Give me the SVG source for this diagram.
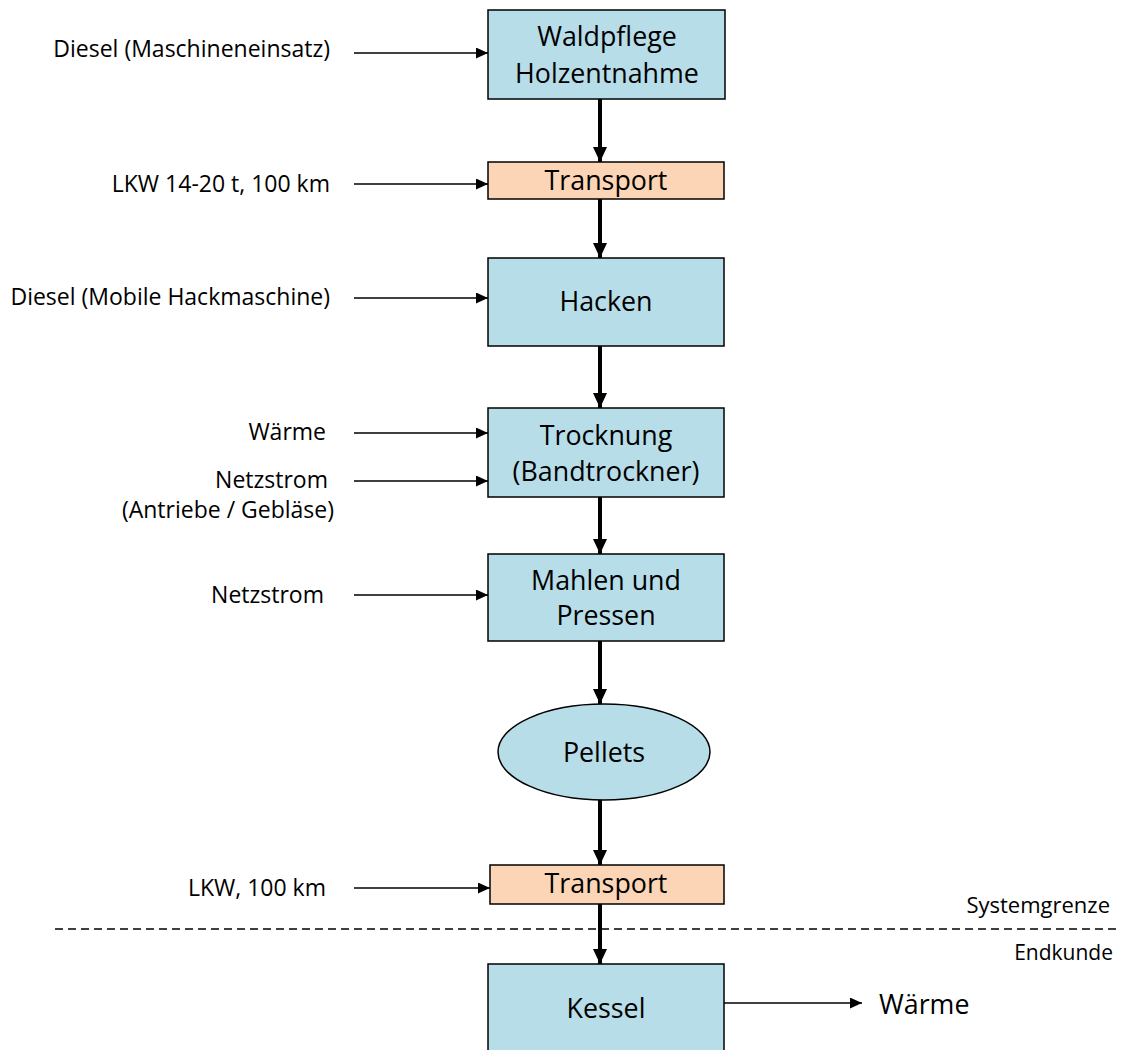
<svg xmlns="http://www.w3.org/2000/svg" width="1121" height="1050" viewBox="0 0 1121 1050">
<style>
.box{fill:#B7DDE8;stroke:#000;stroke-width:1.5}
.tr{fill:#FBD5B5;stroke:#000;stroke-width:1.5}
.bt{font-family:"Open Sans","Liberation Sans",sans-serif;font-size:26.8px;fill:#000;text-anchor:middle}
.lb{font-family:"Open Sans","Liberation Sans",sans-serif;font-size:23px;fill:#000;text-anchor:end}
.thin{stroke:#000;stroke-width:1.5;fill:none;marker-end:url(#ah)}
.thick{stroke:#000;stroke-width:4;fill:none;marker-end:url(#ahb)}
</style>
<defs>
<marker id="ah" markerUnits="userSpaceOnUse" markerWidth="12" markerHeight="11" refX="12" refY="5.5" orient="auto"><path d="M0,0 L12,5.5 L0,11 z" fill="#000"/></marker>
<marker id="ahb" markerUnits="userSpaceOnUse" markerWidth="15" markerHeight="14" refX="15" refY="7" orient="auto"><path d="M0,0 L15,7 L0,14 z" fill="#000"/></marker>
</defs>
<rect width="1121" height="1050" fill="#fff"/>
<g id="connectors">
<line class="thick" x1="600" y1="99" x2="600" y2="162"/>
<line class="thick" x1="600" y1="199" x2="600" y2="258"/>
<line class="thick" x1="600" y1="346" x2="600" y2="408"/>
<line class="thick" x1="600" y1="497" x2="600" y2="554"/>
<line class="thick" x1="600" y1="641" x2="600" y2="704"/>
<line class="thick" x1="600" y1="800" x2="600" y2="865"/>
<line class="thick" x1="600" y1="904" x2="600" y2="964"/>
<line class="thin" x1="354" y1="53" x2="488" y2="53"/>
<line class="thin" x1="354" y1="184" x2="488" y2="184"/>
<line class="thin" x1="354" y1="298" x2="488" y2="298"/>
<line class="thin" x1="354" y1="433" x2="488" y2="433"/>
<line class="thin" x1="354" y1="481" x2="488" y2="481"/>
<line class="thin" x1="354" y1="595" x2="488" y2="595"/>
<line class="thin" x1="354" y1="888" x2="490" y2="888"/>
<line class="thin" x1="724" y1="1003" x2="862" y2="1003"/>
</g>
<g id="systemgrenze">
<line x1="55" y1="929" x2="1121" y2="929" stroke="#000" stroke-width="1.3" stroke-dasharray="8,5"/>
<text class="lb" x="1110" y="913" style="font-size:22px">Systemgrenze</text>
<text class="lb" x="1113" y="960" style="font-size:21px">Endkunde</text>
</g>
<g id="n-waldpflege"><rect class="box" x="488" y="10" width="237" height="89"/><text class="bt" x="607" y="46">Waldpflege</text><text class="bt" x="607" y="83">Holzentnahme</text></g>
<g id="n-transport1"><rect class="tr" x="488" y="162" width="236" height="37"/><text class="bt" x="606" y="190">Transport</text></g>
<g id="n-hacken"><rect class="box" x="488" y="258" width="236" height="88"/><text class="bt" x="606" y="311">Hacken</text></g>
<g id="n-trocknung"><rect class="box" x="488" y="408" width="236" height="89"/><text class="bt" x="606" y="445">Trocknung</text><text class="bt" x="606" y="481">(Bandtrockner)</text></g>
<g id="n-mahlen"><rect class="box" x="488" y="554" width="236" height="87"/><text class="bt" x="606" y="590">Mahlen und</text><text class="bt" x="606" y="625">Pressen</text></g>
<g id="n-pellets"><ellipse class="box" cx="604" cy="752" rx="106" ry="48"/><text class="bt" x="604" y="762">Pellets</text></g>
<g id="n-transport2"><rect class="tr" x="490" y="865" width="234" height="39"/><text class="bt" x="606" y="893">Transport</text></g>
<g id="n-kessel"><rect class="box" x="488" y="964" width="236" height="100"/><text class="bt" x="606" y="1018">Kessel</text></g>
<g id="out-waerme"><text class="bt" x="879" y="1014" style="text-anchor:start">Wärme</text></g>
<g id="inputs">
<text class="lb" x="330" y="57">Diesel (Maschineneinsatz)</text>
<text class="lb" x="330" y="192">LKW 14-20 t, 100 km</text>
<text class="lb" x="330" y="305">Diesel (Mobile Hackmaschine)</text>
<text class="lb" x="326" y="440">Wärme</text>
<text class="lb" x="328" y="488">Netzstrom</text>
<text class="lb" x="334" y="518">(Antriebe / Gebläse)</text>
<text class="lb" x="324" y="603">Netzstrom</text>
<text class="lb" x="326" y="896">LKW, 100 km</text>
</g>
</svg>
